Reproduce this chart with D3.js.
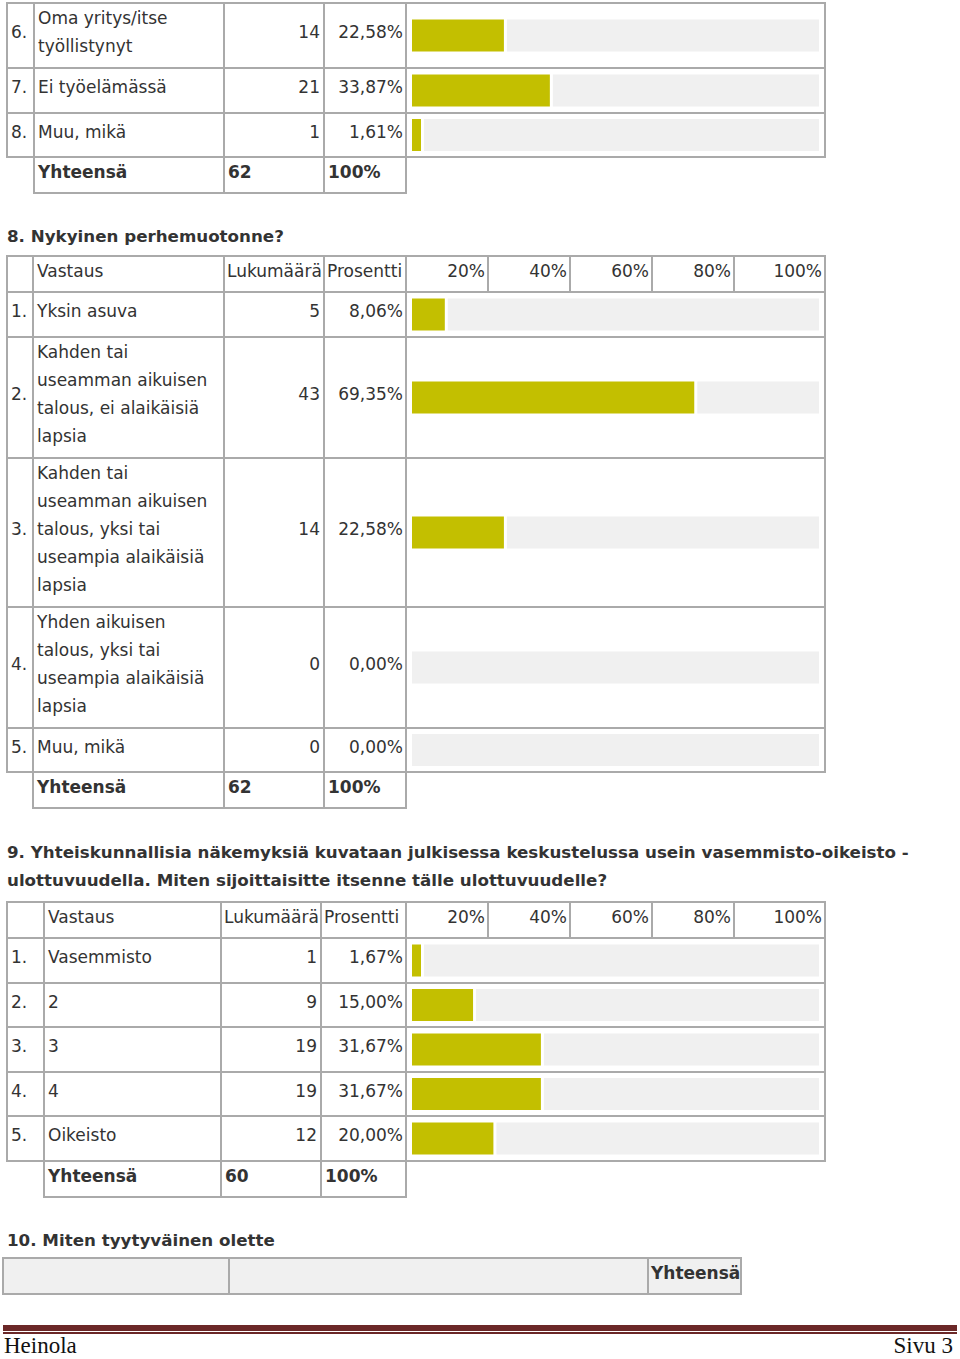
<!DOCTYPE html>
<html>
<head>
<meta charset="utf-8">
<script src="https://cdnjs.cloudflare.com/ajax/libs/d3/7.8.5/d3.min.js"></script>
<style>
  body { margin: 0; background: #fff; }
  svg { display: block; }
</style>
</head>
<body>
<div id="page"></div>
<script>
// ---- data ----
var tickLabels = [20, 40, 60, 80, 100]

var q7Numbers = ["6.", "7.", "8."]
var q7Labels = [["Oma yritys/itse", "työllistynyt"], ["Ei työelämässä"], ["Muu, mikä"]]
var q7Counts = [14, 21, 1]
var q7Percents = [22.58, 33.87, 1.61]
var q7Total = 62

var q8Title = ["8. Nykyinen perhemuotonne?"]
var q8Numbers = ["1.", "2.", "3.", "4.", "5."]
var q8Labels = [
    ["Yksin asuva"],
    ["Kahden tai", "useamman aikuisen", "talous, ei alaikäisiä", "lapsia"],
    ["Kahden tai", "useamman aikuisen", "talous, yksi tai", "useampia alaikäisiä", "lapsia"],
    ["Yhden aikuisen", "talous, yksi tai", "useampia alaikäisiä", "lapsia"],
    ["Muu, mikä"]
]
var q8Counts = [5, 43, 14, 0, 0]
var q8Percents = [8.06, 69.35, 22.58, 0.00, 0.00]
var q8Total = 62

var q9Title = ["9. Yhteiskunnallisia näkemyksiä kuvataan julkisessa keskustelussa usein vasemmisto-oikeisto -",
               "ulottuvuudella. Miten sijoittaisitte itsenne tälle ulottuvuudelle?"]
var q9Numbers = ["1.", "2.", "3.", "4.", "5."]
var q9Labels = [["Vasemmisto"], ["2"], ["3"], ["4"], ["Oikeisto"]]
var q9Counts = [1, 9, 19, 19, 12]
var q9Percents = [1.67, 15.00, 31.67, 31.67, 20.00]
var q9Total = 60

var q10Title = ["10. Miten tyytyväinen olette"]

var headerLabels = ["Vastaus", "Lukumäärä", "Prosentti"]
var totalLabel = "Yhteensä"
var footerLeft = "Heinola"
var footerRight = "Sivu 3"

// ---- styling ----
var W = 960, H = 1359
var barColor = "#c3bf00"
var trackColor = "#f0f0f0"
var lineColor = "#aaaaaa"
var textColor = "#333333"
var font = "'DejaVu Sans', Verdana, sans-serif"
var fontSize = 17
var lineH = 28
var singleRow = 44.6
var headerRow = 36
var totalRow = 36

var svg = d3.select("#page").append("svg")
    .attr("width", W)
    .attr("height", H)
    .style("font-family", font)
    .style("font-size", fontSize + "px")
    .attr("fill", textColor)

// bars go 412..819, header tick cells 406..816 (last cell stretched to table edge)
var barScale = d3.scaleLinear().domain([0, 100]).range([412, 819])
var tickScale = d3.scaleLinear().domain([0, 100]).range([406, 816])

function fmtPct(v) {
    return d3.format(".2f")(v).replace(".", ",") + "%"
}

function rowHeight(lines) {
    return lines === 1 ? singleRow : lines * lineH + 9
}

function cellBox(g, x1, y1, x2, y2, fill) {
    g.append("rect")
        .attr("x", x1).attr("y", y1)
        .attr("width", x2 - x1).attr("height", y2 - y1)
        .attr("fill", fill || "none")
        .attr("stroke", lineColor)
        .attr("stroke-width", 2)
}

function title(lines, x, y) {
    var t = svg.append("g").attr("font-weight", "bold").style("font-size", "16.7px")
    t.selectAll("text")
        .data(lines)
        .enter()
        .append("text")
        .attr("x", x)
        .attr("y", function (d, i) { return y + i * lineH })
        .text(function (d) { return d })
}

function drawTable(opt) {
    var cols = opt.cols
    var g = svg.append("g")
    var y = opt.top

    if (opt.header) {
        var yb = Math.round(y + headerRow)
        cellBox(g, cols[0], y, cols[1], yb)
        for (var c = 1; c < 4; c++) cellBox(g, cols[c], y, cols[c + 1], yb)
        g.append("text").attr("x", cols[1] + 4).attr("y", (y + yb) / 2 + 3).text(headerLabels[0])
        g.append("text").attr("x", cols[2] + 3).attr("y", (y + yb) / 2 + 3).text(headerLabels[1])
        g.append("text").attr("x", cols[3] + 3).attr("y", (y + yb) / 2 + 3).text(headerLabels[2])
        // percentage header cells
        var edges = [cols[4]].concat(tickLabels.map(function (t, i) {
            return i === tickLabels.length - 1 ? cols[5] : Math.round(tickScale(t))
        }))
        g.selectAll(".tickcell")
            .data(tickLabels)
            .enter()
            .append("rect")
            .attr("class", "tickcell")
            .attr("x", function (d, i) { return edges[i] })
            .attr("y", y)
            .attr("width", function (d, i) { return edges[i + 1] - edges[i] })
            .attr("height", yb - y)
            .attr("fill", "none")
            .attr("stroke", lineColor)
            .attr("stroke-width", 2)
        g.selectAll(".ticklabel")
            .data(tickLabels)
            .enter()
            .append("text")
            .attr("class", "ticklabel")
            .attr("x", function (d, i) { return edges[i + 1] - 3 })
            .attr("y", (y + yb) / 2 + 3)
            .attr("text-anchor", "end")
            .text(function (d) { return d + "%" })
        y = yb
    }

    var yy = y
    var rows = opt.labels.map(function (lab, i) {
        var top = Math.round(yy)
        yy += rowHeight(lab.length)
        return { i: i, top: top, bottom: Math.round(yy), lines: lab }
    })

    rows.forEach(function (r) {
        var mid = (r.top + r.bottom) / 2
        cellBox(g, cols[0], r.top, cols[1], r.bottom)
        for (var c = 1; c < 5; c++) cellBox(g, cols[c], r.top, cols[c + 1], r.bottom)

        g.append("text").attr("x", cols[0] + 4).attr("y", mid + 2.5).text(opt.numbers[r.i])
        var n = r.lines.length
        g.append("g").selectAll("text")
            .data(r.lines)
            .enter()
            .append("text")
            .attr("x", cols[1] + 4)
            .attr("y", function (d, k) { return mid + (k - (n - 1) / 2) * lineH + 2.5 })
            .text(function (d) { return d })
        g.append("text").attr("x", cols[3] - 4).attr("y", mid + 2.5)
            .attr("text-anchor", "end").text(opt.counts[r.i])
        g.append("text").attr("x", cols[4] - 3).attr("y", mid + 2.5)
            .attr("text-anchor", "end").text(fmtPct(opt.percents[r.i]))

        // bar: yellow part, white gap, grey remainder
        var p = opt.percents[r.i]
        var x0 = barScale(0)
        var x1 = p > 0 ? Math.max(barScale(p), x0 + 9) : x0
        var by = mid - 16
        if (p > 0) {
            g.append("rect").attr("x", x0).attr("y", by)
                .attr("width", x1 - x0).attr("height", 32).attr("fill", barColor)
        }
        var gx = p > 0 ? x1 + 3 : x0
        g.append("rect").attr("x", gx).attr("y", by)
            .attr("width", barScale(100) - gx).attr("height", 32).attr("fill", trackColor)
    })

    // totals row
    var tTop = rows[rows.length - 1].bottom
    var tBot = tTop + totalRow
    var tm = (tTop + tBot) / 2 + 3
    cellBox(g, cols[1], tTop, cols[2], tBot)
    cellBox(g, cols[2], tTop, cols[3], tBot)
    cellBox(g, cols[3], tTop, cols[4], tBot)
    var tg = g.append("g").attr("font-weight", "bold")
    tg.append("text").attr("x", cols[1] + 4).attr("y", tm).text(totalLabel)
    tg.append("text").attr("x", cols[2] + 4).attr("y", tm).text(opt.total)
    tg.append("text").attr("x", cols[3] + 4).attr("y", tm).text("100%")
}

drawTable({
    cols: [7, 34, 224, 324, 406, 825], top: 3, header: false,
    numbers: q7Numbers, labels: q7Labels, counts: q7Counts, percents: q7Percents, total: q7Total
})

title(q8Title, 7, 242)
drawTable({
    cols: [7, 33, 224, 324, 406, 825], top: 256, header: true,
    numbers: q8Numbers, labels: q8Labels, counts: q8Counts, percents: q8Percents, total: q8Total
})

title(q9Title, 7, 858)
drawTable({
    cols: [7, 44, 221, 321, 406, 825], top: 902, header: true,
    numbers: q9Numbers, labels: q9Labels, counts: q9Counts, percents: q9Percents, total: q9Total
})

// question 10 only shows its empty header strip on this page
title(q10Title, 7, 1246)
var g10 = svg.append("g")
cellBox(g10, 3, 1258, 229, 1294, trackColor)
cellBox(g10, 229, 1258, 648, 1294, trackColor)
cellBox(g10, 648, 1258, 741, 1294, trackColor)
g10.append("text").attr("x", 651).attr("y", 1279).attr("font-weight", "bold").text(totalLabel)

// footer
svg.append("rect").attr("x", 3).attr("y", 1325).attr("width", 954).attr("height", 6).attr("fill", "#6b2828")
svg.append("rect").attr("x", 3).attr("y", 1332).attr("width", 954).attr("height", 2).attr("fill", "#6b2828")
var foot = svg.append("g")
    .style("font-family", "'Liberation Serif', 'DejaVu Serif', serif")
    .style("font-size", "23px")
    .attr("fill", "#111")
foot.append("text").attr("x", 4).attr("y", 1353).text(footerLeft)
foot.append("text").attr("x", 953).attr("y", 1353).attr("text-anchor", "end").text(footerRight)
</script>
</body>
</html>
